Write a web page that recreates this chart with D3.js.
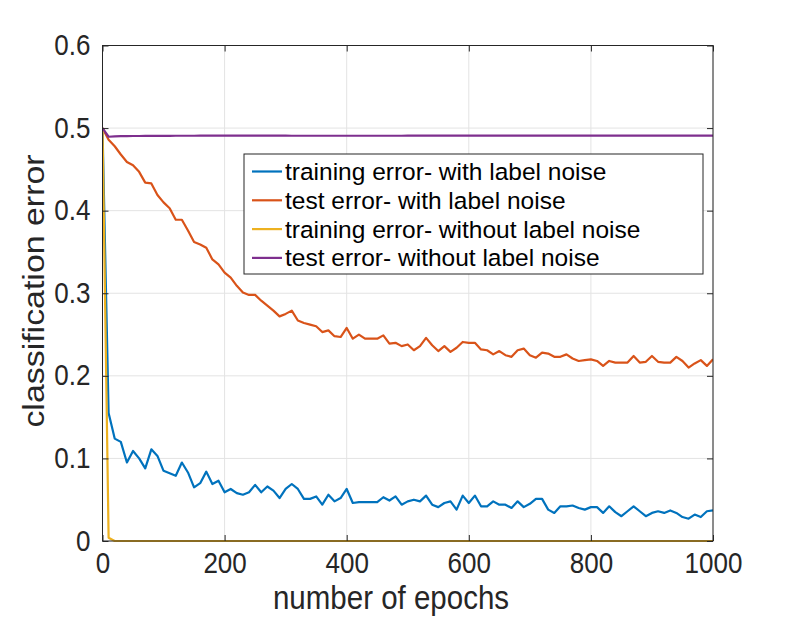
<!DOCTYPE html>
<html>
<head>
<meta charset="utf-8">
<script src="https://cdn.jsdelivr.net/npm/d3@7"></script>
<style>
html,body{margin:0;padding:0;background:#fff;}
svg{display:block;}
text{font-family:"Liberation Sans", Arial, Helvetica, sans-serif;}
</style>
</head>
<body>
<svg id="chart" width="789" height="618"></svg>
<script>
const epochs = d3.range(0, 1001, 10);
const xTicks = [0, 200, 400, 600, 800, 1000];
const yTicks = [0, 0.1, 0.2, 0.3, 0.4, 0.5, 0.6];
const seriesNames = [
  "training error- with label noise",
  "test error- with label noise",
  "training error- without label noise",
  "test error- without label noise"
];
const trainNoise = [0.500,0.155,0.124,0.120,0.095,0.109,0.100,0.088,0.111,0.103,
  0.085,0.082,0.079,0.095,0.083,0.065,0.070,0.084,0.069,0.073,
  0.059,0.063,0.058,0.056,0.059,0.068,0.059,0.066,0.061,0.052,
  0.063,0.069,0.063,0.051,0.051,0.054,0.044,0.056,0.048,0.052,
  0.063,0.046,0.047,0.047,0.047,0.047,0.053,0.049,0.054,0.044,
  0.048,0.050,0.048,0.055,0.044,0.041,0.046,0.048,0.038,0.055,
  0.046,0.055,0.042,0.042,0.048,0.044,0.044,0.040,0.048,0.041,
  0.045,0.051,0.051,0.038,0.034,0.042,0.042,0.043,0.040,0.038,
  0.041,0.041,0.034,0.042,0.035,0.030,0.036,0.042,0.036,0.030,
  0.034,0.036,0.034,0.037,0.034,0.029,0.027,0.032,0.029,0.036,
  0.037];
const testNoise = [0.500,0.486,0.478,0.468,0.459,0.455,0.447,0.434,0.433,0.419,
  0.410,0.403,0.389,0.389,0.376,0.362,0.359,0.355,0.341,0.335,
  0.325,0.319,0.309,0.301,0.298,0.298,0.291,0.285,0.279,0.272,
  0.275,0.279,0.267,0.264,0.262,0.260,0.253,0.255,0.248,0.247,
  0.258,0.245,0.250,0.245,0.245,0.245,0.249,0.239,0.240,0.236,
  0.238,0.231,0.236,0.246,0.237,0.230,0.236,0.229,0.234,0.241,
  0.240,0.240,0.232,0.231,0.226,0.230,0.225,0.223,0.231,0.233,
  0.225,0.222,0.228,0.227,0.223,0.223,0.226,0.221,0.218,0.219,
  0.220,0.218,0.212,0.218,0.216,0.216,0.216,0.224,0.216,0.217,
  0.224,0.217,0.216,0.216,0.223,0.218,0.210,0.215,0.219,0.212,
  0.220];
const trainClean = [0.500,0.004,0,0,0,0,0,0,0,0,
  0,0,0,0,0,0,0,0,0,0,
  0,0,0,0,0,0,0,0,0,0,
  0,0,0,0,0,0,0,0,0,0,
  0,0,0,0,0,0,0,0,0,0,
  0,0,0,0,0,0,0,0,0,0,
  0,0,0,0,0,0,0,0,0,0,
  0,0,0,0,0,0,0,0,0,0,
  0,0,0,0,0,0,0,0,0,0,
  0,0,0,0,0,0,0,0,0,0,
  0];
const testClean = [0.500,0.4895,0.4900,0.4902,0.4903,0.4904,0.4904,0.4905,0.4905,0.4906,
  0.4906,0.4906,0.4907,0.4907,0.4907,0.4907,0.4908,0.4908,0.4908,0.4908,
  0.4908,0.4908,0.4908,0.4908,0.4908,0.4908,0.4908,0.4908,0.4908,0.4908,
  0.4908,0.4907,0.4907,0.4907,0.4907,0.4907,0.4907,0.4907,0.4907,0.4907,
  0.4907,0.4907,0.4907,0.4907,0.4907,0.4907,0.4907,0.4907,0.4907,0.4907,
  0.4908,0.4908,0.4908,0.4908,0.4908,0.4908,0.4908,0.4908,0.4908,0.4908,
  0.4908,0.4908,0.4908,0.4908,0.4908,0.4908,0.4908,0.4908,0.4908,0.4908,
  0.4908,0.4908,0.4908,0.4908,0.4908,0.4908,0.4908,0.4908,0.4908,0.4908,
  0.4908,0.4908,0.4908,0.4908,0.4908,0.4908,0.4908,0.4908,0.4908,0.4908,
  0.4908,0.4908,0.4908,0.4908,0.4908,0.4908,0.4908,0.4908,0.4908,0.4908,
  0.4908];
const colors = ["#0072BD", "#D95319", "#EDB120", "#7E2F8E"];

const allSeries = [trainNoise, testNoise, trainClean, testClean];

(function () {
const svg = d3.select("#chart");
const L = 102.5, R = 713, T = 45.5, B = 541;
const x = d3.scaleLinear().domain([0, 1000]).range([L, R]);
const y = d3.scaleLinear().domain([0, 0.6]).range([B, T]);
const axisColor = "#262626";
const tickLen = 6;
const K = 1.1; // vertical glyph stretch seen in the reference

// grid
const grid = svg.append("g");
grid.selectAll("line.gx").data(xTicks).join("line").attr("class", "gx")
  .attr("x1", d => x(d)).attr("x2", d => x(d)).attr("y1", T).attr("y2", B)
  .attr("stroke", "#e3e3e3").attr("stroke-width", 1);
grid.selectAll("line.gy").data(yTicks).join("line").attr("class", "gy")
  .attr("y1", d => y(d)).attr("y2", d => y(d)).attr("x1", L).attr("x2", R)
  .attr("stroke", "#e3e3e3").attr("stroke-width", 1);

// lines
svg.append("clipPath").attr("id", "clip").append("rect")
  .attr("x", L).attr("y", T - 2).attr("width", R - L).attr("height", B - T + 4);
const line = d3.line().x((d, i) => x(epochs[i])).y(d => y(d));
const lg = svg.append("g").attr("clip-path", "url(#clip)");
allSeries.forEach((s, k) => {
  lg.append("path").datum(s).attr("d", line).attr("fill", "none")
    .attr("stroke", colors[k]).attr("stroke-width", 2.2)
    .attr("stroke-linejoin", "round");
});

// axes (box with inward ticks on all sides)
const axB = d3.axisBottom(x).tickValues(xTicks).tickSize(-tickLen).tickPadding(12).tickFormat(d3.format("d"));
const axT = d3.axisTop(x).tickValues(xTicks).tickSize(-tickLen).tickFormat("");
const axL = d3.axisLeft(y).tickValues(yTicks).tickSize(-tickLen).tickPadding(12)
  .tickFormat(d => d === 0 ? "0" : d3.format(".1f")(d));
const axR = d3.axisRight(y).tickValues(yTicks).tickSize(-tickLen).tickFormat("");

function styleAxis(g) {
  g.selectAll(".tick line").attr("stroke", axisColor).attr("stroke-width", 1);
  g.selectAll(".tick text").attr("fill", axisColor)
    .style("font-family", '"Liberation Sans", Arial, sans-serif').style("font-size", "26px")
    .attr("transform", function () {
      const ya = +d3.select(this).attr("y") || 0;
      return `translate(0,${ya}) scale(1,${K}) translate(0,${-ya})`;
    });
}
svg.append("g").attr("transform", `translate(0,${B})`).call(axB).call(styleAxis);
svg.append("g").attr("transform", `translate(0,${T})`).call(axT).call(styleAxis);
svg.append("g").attr("transform", `translate(${L},0)`).call(axL).call(styleAxis);
svg.append("g").attr("transform", `translate(${R},0)`).call(axR).call(styleAxis);
svg.selectAll(".domain").remove();
svg.append("rect").attr("x", L).attr("y", T).attr("width", R - L).attr("height", B - T)
  .attr("fill", "none").attr("stroke", axisColor).attr("stroke-width", 1);

// axis labels
svg.append("text").attr("transform", `translate(391,609) scale(1,${K})`).attr("text-anchor", "middle")
  .attr("fill", axisColor).style("font-size", "29.5px").text("number of epochs");
svg.append("text").attr("transform", `translate(44,291) rotate(-90) scale(1.15,1)`)
  .attr("text-anchor", "middle").attr("fill", axisColor).style("font-size", "29.5px")
  .text("classification error");

// legend
const lgX = 244, lgY = 154, lgW = 459, lgH = 120, rowH = 28.8;
const leg = svg.append("g");
leg.append("rect").attr("x", lgX).attr("y", lgY).attr("width", lgW).attr("height", lgH)
  .attr("fill", "#fff").attr("stroke", "#262626").attr("stroke-width", 1);
seriesNames.forEach((n, i) => {
  const cy = lgY + 17.5 + i * rowH;
  leg.append("line").attr("x1", lgX + 8).attr("x2", lgX + 38).attr("y1", cy).attr("y2", cy)
    .attr("stroke", colors[i]).attr("stroke-width", 2.2);
  leg.append("text").attr("x", lgX + 41).attr("y", cy)
    .attr("dy", "0.35em").attr("fill", "#000").style("font-size", "24.5px").text(n);
});
})();
</script>
</body>
</html>
